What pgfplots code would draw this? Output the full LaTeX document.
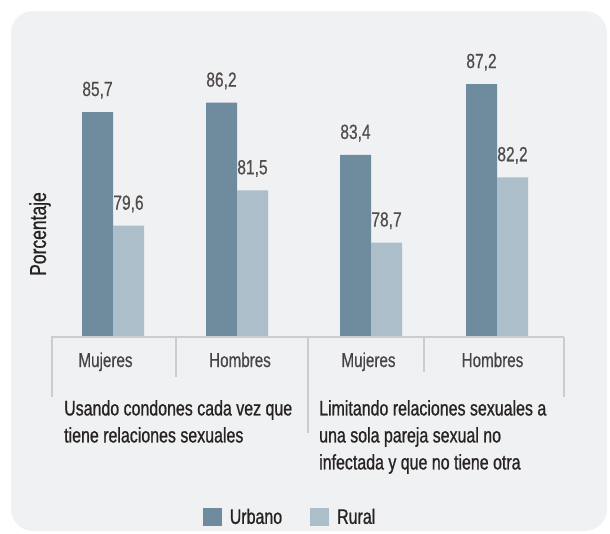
\documentclass[border=0pt]{standalone}
\usepackage{pgfplots}
\pgfplotsset{compat=1.18}
\usepackage{fontspec}
\setmainfont{Liberation Sans}[FakeStretch=0.76]
\newfontfamily\semib{Liberation Sans}[FakeStretch=0.76, FakeBold=0.9]
\newfontfamily\medi{Liberation Sans}[FakeStretch=0.76, FakeBold=0.4]
\definecolor{urb}{RGB}{111,139,158}
\definecolor{rur}{RGB}{173,190,203}
\definecolor{bg}{RGB}{240,241,243}
\definecolor{sep}{RGB}{204,205,207}
\definecolor{txt}{RGB}{40,35,35}
\definecolor{cat}{RGB}{70,67,70}
\definecolor{num}{RGB}{80,75,75}
\begin{document}
\begin{tikzpicture}
\path[use as bounding box] (0pt,0pt) rectangle (610pt,-533pt);
\fill[bg, rounded corners=22pt] (11pt,-11pt) rectangle (607pt,-531pt);
\begin{axis}[
  at={(51pt,-337pt)}, anchor=south west,
  scale only axis, width=513pt, height=326pt,
  xmin=51, xmax=564, ymin=73.63, ymax=91.12,
  axis line style={draw=none},
  ytick=\empty,
  xtick={105.5,240,368.5,492.5},
  xticklabels={Mujeres,Hombres,Mujeres,Hombres},
  major tick length=0pt,
  xticklabel style={anchor=base, yshift=-30pt, font=\medi\fontsize{20}{24}\selectfont, text=cat, inner sep=0pt},
  ylabel={Porcentaje},
  ylabel style={at={(axis description cs:-0.0214,0.316)}, anchor=center, font=\semib\fontsize{23}{27}\selectfont, text=txt},
  ybar=0pt, bar width=31,
  /pgf/number format/assume math mode=true,
  nodes near coords={\pgfmathprintnumber[fixed,fixed zerofill,precision=1,use comma]{\pgfplotspointmeta}},
  every node near coord/.append style={anchor=base, yshift=16pt, inner sep=0pt, font=\medi\fontsize{20.5}{24}\selectfont, text=num},
  legend style={at={(axis description cs:0.466,-0.552)}, anchor=center, draw=none, fill=none,
    font=\semib\fontsize{21}{25}\selectfont, text=txt,
    /tikz/every even column/.append style={column sep=26pt},
    /tikz/every odd column/.append style={column sep=6pt}},
  legend columns=2,
  legend image code/.code={\fill[#1] (0pt,-9pt) rectangle (19pt,9pt);},
]
\addplot[fill=urb, draw=none] coordinates {(113,85.7) (237,86.2) (371,83.4) (497,87.2)};
\addplot[fill=rur, draw=none] coordinates {(113,79.6) (237,81.5) (371,78.7) (497,82.2)};
\legend{Urbano,Rural}
\end{axis}
\begin{scope}[sep, line width=1.5pt]
\draw (51pt,-337pt) -- (564pt,-337pt);
\draw (52pt,-337pt) -- (52pt,-397pt);
\draw (176pt,-337pt) -- (176pt,-377pt);
\draw (308pt,-337pt) -- (308pt,-433pt);
\draw (424pt,-337pt) -- (424pt,-372pt);
\draw (564pt,-337pt) -- (564pt,-397pt);
\end{scope}
\node[anchor=north west, align=left, inner sep=0pt, text=txt, font=\semib\fontsize{21}{27}\selectfont] at (64pt,-400pt)
  {Usando condones cada vez que\\tiene relaciones sexuales};
\node[anchor=north west, align=left, inner sep=0pt, text=txt, font=\semib\fontsize{21}{27}\selectfont] at (319pt,-400pt)
  {Limitando relaciones sexuales a\\una sola pareja sexual no\\infectada y que no tiene otra};
\end{tikzpicture}
\end{document}
